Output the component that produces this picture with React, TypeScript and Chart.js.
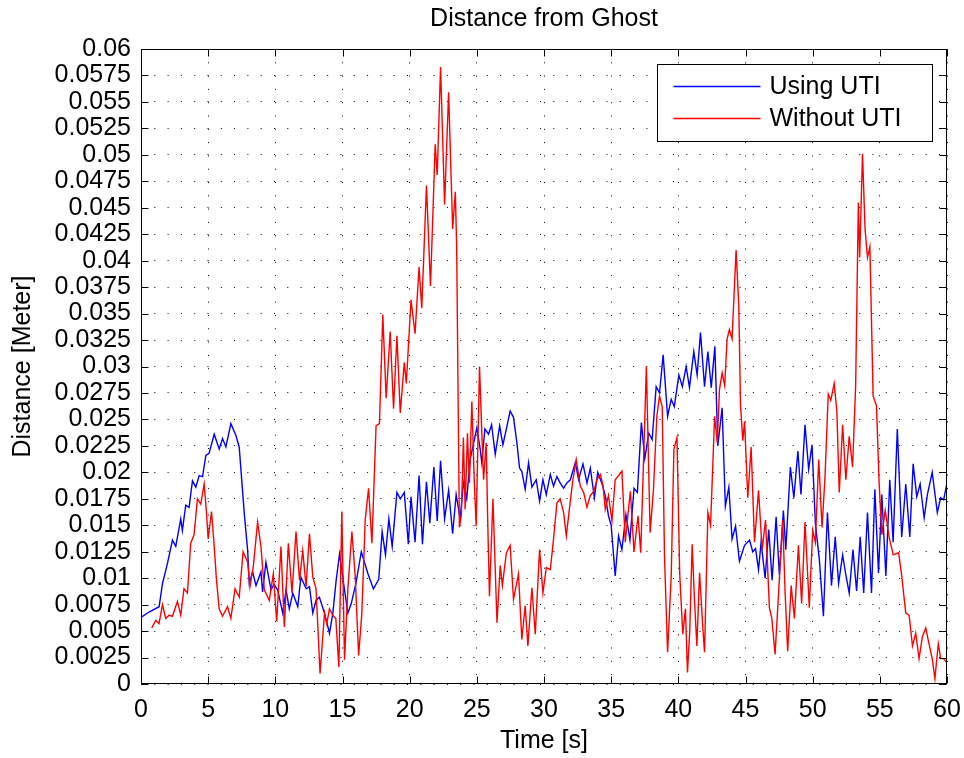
import React, { useEffect, useRef } from "react";
import { Chart, registerables } from "chart.js";

Chart.register(...registerables);

const CHART_TITLE = "Distance from Ghost";
const X_TITLE = "Time [s]";
const Y_TITLE = "Distance [Meter]";
const SERIES_LABELS = ["Using UTI", "Without UTI"];
const SERIES_COLORS = ["#0000ff", "#ff0000"];

const TIME_TICKS = [0, 5, 10, 15, 20, 25, 30, 35, 40, 45, 50, 55, 60];
const DIST_TICKS = [
  0, 0.0025, 0.005, 0.0075, 0.01, 0.0125, 0.015, 0.0175, 0.02, 0.0225, 0.025,
  0.0275, 0.03, 0.0325, 0.035, 0.0375, 0.04, 0.0425, 0.045, 0.0475, 0.05,
  0.0525, 0.055, 0.0575, 0.06,
];

const usingUtiTime = [
  0, 0.6, 1.35, 1.6, 1.97, 2.34, 2.59, 2.96, 3.08, 3.33, 3.58, 3.83, 4.08, 4.33,
  4.58, 4.83, 5.07, 5.45, 5.82, 6.07, 6.32, 6.69, 7.06, 7.31, 7.69, 7.94, 8.06,
  8.31, 8.56, 8.93, 9.05, 9.3, 9.68, 9.9, 10.17, 10.55, 10.8, 11.04, 11.3, 11.67,
  11.9, 12.3, 12.54, 12.79, 13.03, 13.28, 13.66, 14.03, 14.28, 14.53, 14.78,
  15.15, 15.4, 15.65, 16.0, 16.4, 16.9, 17.3, 17.7, 17.95, 18.2, 18.45, 18.7,
  19.05, 19.3, 19.6, 19.9, 20.1, 20.4, 20.7, 20.95, 21.25, 21.5, 21.8, 22.05,
  22.3, 22.6, 22.9, 23.2, 23.46, 23.76, 24.0, 24.25, 24.5, 25.0, 25.25, 25.37,
  25.6, 25.87, 26.1, 26.37, 26.7, 26.94, 27.2, 27.48, 27.73, 27.98, 28.18,
  28.35, 28.6, 28.85, 29.1, 29.42, 29.67, 29.92, 30.17, 30.47, 30.71, 30.96,
  31.2, 31.46, 31.7, 31.96, 32.33, 32.58, 32.9, 33.2, 33.45, 33.75, 34.0, 34.3,
  34.56, 34.8, 35.0, 35.3, 35.55, 35.8, 36.1, 36.4, 36.7, 36.95, 37.25, 37.5,
  37.8, 38.05, 38.35, 38.6, 38.87, 39.2, 39.47, 39.7, 40.04, 40.3, 40.58, 40.83,
  41.15, 41.4, 41.65, 41.95, 42.2, 42.45, 42.72, 42.94, 43.26, 43.5, 43.76,
  44.0, 44.26, 44.55, 44.93, 45.3, 45.54, 45.75, 45.97, 46.16, 46.46, 46.73,
  46.98, 47.28, 47.52, 47.82, 48.0, 48.34, 48.6, 48.9, 49.13, 49.43, 49.7,
  49.95, 50.2, 50.5, 50.8, 51.1, 51.4, 51.68, 51.93, 52.23, 52.47, 52.72, 53.0,
  53.27, 53.54, 53.8, 54.08, 54.38, 54.63, 54.9, 55.15, 55.45, 55.74, 55.99,
  56.3, 56.63, 56.93, 57.23, 57.48, 57.75, 58.0, 58.3, 58.54, 58.9, 59.28,
  59.53, 59.75, 60,
];
const usingUtiDist = [
  0.0063, 0.0068, 0.0073, 0.0095, 0.0114, 0.0136, 0.013, 0.0156, 0.0145, 0.0169,
  0.0167, 0.0192, 0.0186, 0.0197, 0.0196, 0.0216, 0.0218, 0.0236, 0.0222,
  0.0232, 0.0224, 0.0246, 0.0235, 0.0224, 0.0161, 0.0126, 0.0095, 0.0106,
  0.0093, 0.0106, 0.0087, 0.0115, 0.0089, 0.0094, 0.0089, 0.0067, 0.0089,
  0.0071, 0.0086, 0.0073, 0.0101, 0.009, 0.0092, 0.0067, 0.0079, 0.0082, 0.0067,
  0.0048, 0.0067, 0.0098, 0.0123, 0.0089, 0.0067, 0.0076, 0.0095, 0.0125,
  0.0104, 0.009, 0.0099, 0.0144, 0.0122, 0.0156, 0.013, 0.0181, 0.0175, 0.0181,
  0.0132, 0.0177, 0.0134, 0.0197, 0.0132, 0.0191, 0.0152, 0.0205, 0.0154,
  0.0211, 0.0156, 0.0183, 0.0142, 0.0179, 0.0156, 0.019, 0.0175, 0.0212,
  0.0242, 0.0222, 0.0209, 0.0241, 0.0236, 0.0245, 0.0217, 0.0244, 0.0226,
  0.0241, 0.0258, 0.0252, 0.0228, 0.0204, 0.0201, 0.0184, 0.0209, 0.0186,
  0.0193, 0.0173, 0.0193, 0.0179, 0.0198, 0.0187, 0.0196, 0.019, 0.0185, 0.019,
  0.0193, 0.0209, 0.0193, 0.0208, 0.019, 0.0204, 0.0176, 0.02, 0.019, 0.0178,
  0.0159, 0.015, 0.0102, 0.014, 0.0127, 0.016, 0.0136, 0.0185, 0.0181, 0.0247,
  0.0213, 0.0237, 0.0231, 0.0281, 0.0275, 0.0311, 0.0253, 0.0269, 0.0262,
  0.0292, 0.0281, 0.03, 0.028, 0.0314, 0.0292, 0.0332, 0.0281, 0.0314, 0.028,
  0.0319, 0.0225, 0.0261, 0.0168, 0.0186, 0.0137, 0.0149, 0.0116, 0.0131,
  0.0136, 0.0125, 0.0128, 0.0108, 0.0134, 0.01, 0.0146, 0.0098, 0.0158, 0.0103,
  0.0164, 0.0127, 0.0205, 0.0176, 0.022, 0.0179, 0.0245, 0.0203, 0.0226,
  0.0152, 0.0117, 0.0064, 0.0162, 0.0093, 0.0139, 0.0095, 0.0122, 0.0103,
  0.0086, 0.0127, 0.0088, 0.0139, 0.0086, 0.0162, 0.0086, 0.0184, 0.0105,
  0.0179, 0.0102, 0.0193, 0.0134, 0.0241, 0.0139, 0.0189, 0.0139, 0.0208,
  0.0177, 0.0189, 0.0157, 0.0179, 0.02, 0.0162, 0.0176, 0.0174, 0.019,
];

const withoutUtiTime = [
  0.8, 1.1, 1.34, 1.6, 1.84, 2.09, 2.34, 2.71, 2.96, 3.2, 3.46, 3.7, 3.95, 4.2,
  4.45, 4.7, 4.88, 5.0, 5.25, 5.45, 5.62, 5.82, 6.07, 6.44, 6.69, 7.0, 7.31,
  7.6, 7.94, 8.11, 8.36, 8.68, 8.93, 9.18, 9.55, 9.85, 10.1, 10.42, 10.67,
  10.97, 11.24, 11.54, 11.8, 12.04, 12.29, 12.54, 12.79, 13.03, 13.33, 13.66,
  13.83, 14.03, 14.33, 14.5, 14.73, 14.95, 15.15, 15.4, 15.7, 15.95, 16.2,
  16.44, 16.69, 16.94, 17.19, 17.5, 17.75, 18.0, 18.25, 18.55, 18.8, 19.05,
  19.3, 19.6, 19.75, 20.1, 20.4, 20.7, 20.9, 21.25, 21.55, 21.9, 22.05, 22.3,
  22.6, 22.9, 23.2, 23.4, 23.5, 23.7, 23.85, 24.0, 24.13, 24.3, 24.45, 24.63,
  24.8, 24.95, 25.2, 25.35, 25.5, 25.7, 25.8, 25.94, 26.2, 26.5, 26.74, 26.9,
  27.2, 27.48, 27.73, 28.1, 28.35, 28.6, 28.8, 29.1, 29.35, 29.67, 29.92,
  30.17, 30.47, 30.71, 30.96, 31.2, 31.46, 31.66, 31.96, 32.15, 32.4, 32.7,
  32.95, 33.2, 33.45, 33.7, 33.94, 34.2, 34.4, 34.56, 34.8, 35.06, 35.3, 35.56,
  35.8, 36.05, 36.25, 36.43, 36.7, 37.0, 37.2, 37.43, 37.62, 37.9, 38.15, 38.4,
  38.6, 38.8, 38.97, 39.2, 39.47, 39.67, 39.9, 40.1, 40.33, 40.53, 40.68,
  40.85, 41.03, 41.2, 41.38, 41.58, 41.83, 41.95, 42.2, 42.4, 42.7, 42.9,
  43.06, 43.26, 43.45, 43.63, 43.8, 44.0, 44.3, 44.5, 44.63, 44.8, 44.93,
  45.17, 45.42, 45.67, 45.97, 46.24, 46.49, 46.78, 46.96, 47.2, 47.45, 47.77,
  47.95, 48.14, 48.4, 48.64, 48.94, 49.18, 49.43, 49.75, 50.0, 50.2, 50.45,
  50.7, 50.92, 51.16, 51.35, 51.6, 51.8, 51.98, 52.23, 52.47, 52.72, 52.97,
  53.2, 53.4, 53.5, 53.71, 53.9, 54.08, 54.26, 54.5, 54.75, 54.95, 55.15, 55.4,
  55.7, 56.0, 56.4, 56.63, 56.93, 57.18, 57.43, 57.67, 57.92, 58.17, 58.42,
  58.66, 58.9, 59.1, 59.35, 59.53, 59.75, 60,
];
const withoutUtiDist = [
  0.0053, 0.006, 0.0057, 0.0075, 0.0062, 0.0065, 0.0064, 0.0078, 0.0065, 0.009,
  0.0086, 0.0133, 0.0141, 0.0175, 0.017, 0.0189, 0.0161, 0.0137, 0.0163, 0.013,
  0.0098, 0.0071, 0.0064, 0.0073, 0.0062, 0.009, 0.0082, 0.0125, 0.0115, 0.0092,
  0.0111, 0.0153, 0.013, 0.0089, 0.0079, 0.0104, 0.0059, 0.013, 0.0054, 0.0133,
  0.0086, 0.0144, 0.0098, 0.0126, 0.0092, 0.0142, 0.0101, 0.009, 0.001, 0.0067,
  0.0057, 0.0071, 0.0064, 0.0062, 0.0016, 0.0163, 0.0023, 0.009, 0.0144,
  0.0101, 0.0027, 0.0067, 0.0155, 0.0185, 0.0133, 0.0244, 0.0246, 0.0349,
  0.027, 0.0333, 0.026, 0.0329, 0.0256, 0.0304, 0.0284, 0.0363, 0.0331, 0.0394,
  0.0355, 0.0471, 0.0376, 0.051, 0.0481, 0.0583, 0.0453, 0.0559, 0.043, 0.0465,
  0.0412, 0.0148, 0.016, 0.0233, 0.0165, 0.0237, 0.019, 0.0267, 0.0195, 0.0149,
  0.03, 0.0245, 0.0193, 0.0228, 0.016, 0.0083, 0.0175, 0.0058, 0.0112, 0.0093,
  0.0124, 0.0131, 0.008, 0.0104, 0.0042, 0.0074, 0.0036, 0.0091, 0.0047, 0.0127,
  0.0086, 0.011, 0.0108, 0.0137, 0.0171, 0.0175, 0.0162, 0.014, 0.0173, 0.0193,
  0.0212, 0.0187, 0.0181, 0.0167, 0.0178, 0.0182, 0.0193, 0.0198, 0.0187,
  0.0165, 0.0178, 0.0154, 0.0193, 0.0197, 0.0201, 0.0134, 0.016, 0.0182,
  0.0125, 0.0159, 0.0124, 0.0219, 0.03, 0.0143, 0.0184, 0.0253, 0.0272, 0.0262,
  0.0121, 0.003, 0.0102, 0.0222, 0.0233, 0.0105, 0.0047, 0.0071, 0.0011, 0.005,
  0.0132, 0.008, 0.0036, 0.0105, 0.0052, 0.003, 0.0162, 0.015, 0.0253, 0.0228,
  0.0278, 0.0294, 0.0282, 0.0326, 0.0335, 0.0326, 0.041, 0.0357, 0.0263, 0.023,
  0.0248, 0.0176, 0.0224, 0.0134, 0.0183, 0.0127, 0.0155, 0.0072, 0.0062,
  0.0028, 0.0083, 0.0155, 0.0086, 0.0031, 0.0093, 0.0062, 0.0131, 0.0076,
  0.0153, 0.0072, 0.0145, 0.0134, 0.0212, 0.0148, 0.0196, 0.0274, 0.0268,
  0.0284, 0.0258, 0.0181, 0.0245, 0.0193, 0.0234, 0.0205, 0.0282, 0.0455,
  0.0403, 0.0501, 0.043, 0.0403, 0.0413, 0.0272, 0.0263, 0.0189, 0.0141, 0.0164,
  0.0138, 0.0122, 0.0124, 0.0102, 0.0067, 0.0065, 0.0036, 0.0048, 0.0024,
  0.0045, 0.0053, 0.0038, 0.0024, 0.0005, 0.0038, 0.0024, 0.0024, 0.002,
];

const FONT_FAMILY = "'Liberation Sans', Arial, Helvetica, sans-serif";
const W = 964;
const H = 758;

const fmtDist = (v: number) => String(Number(v.toFixed(4)));

const framePlugin = {
  id: "matlabFrame",
  afterDraw(chart: any) {
    const { ctx, chartArea: a, scales } = chart;
    const L = Math.round(a.left) + 0.5;
    const R = Math.round(a.right) - 0.5;
    const T = Math.round(a.top) + 0.5;
    const B = Math.round(a.bottom) - 0.5;
    ctx.save();
    ctx.strokeStyle = "#000";
    ctx.lineWidth = 1;
    ctx.setLineDash([]);
    ctx.strokeRect(L, T, R - L, B - T);
    const TL = 7;
    ctx.beginPath();
    TIME_TICKS.forEach((t) => {
      const px = Math.round(scales.x.getPixelForValue(t)) + 0.5;
      ctx.moveTo(px, B);
      ctx.lineTo(px, B - TL);
      ctx.moveTo(px, T);
      ctx.lineTo(px, T + TL);
    });
    DIST_TICKS.forEach((v) => {
      const py = Math.round(scales.y.getPixelForValue(v)) + 0.5;
      ctx.moveTo(L, py);
      ctx.lineTo(L + TL, py);
      ctx.moveTo(R, py);
      ctx.lineTo(R - TL, py);
    });
    ctx.stroke();

    // legend box
    const bw = 275;
    const bh = 77;
    const bx = Math.round(a.right - 15 - bw) + 0.5;
    const by = Math.round(a.top + 15) + 0.5;
    ctx.fillStyle = "#fff";
    ctx.fillRect(bx, by, bw, bh);
    ctx.strokeStyle = "#000";
    ctx.strokeRect(bx, by, bw, bh);
    ctx.font = `25px ${FONT_FAMILY}`;
    ctx.textBaseline = "middle";
    ctx.textAlign = "left";
    chart.data.datasets.forEach((ds: any, i: number) => {
      const ly = by + 22 + i * 32;
      ctx.strokeStyle = ds.borderColor;
      ctx.lineWidth = 1.3;
      ctx.beginPath();
      ctx.moveTo(bx + 16, ly);
      ctx.lineTo(bx + 103, ly);
      ctx.stroke();
      ctx.fillStyle = "#000";
      ctx.fillText(ds.label, bx + 112, ly + 1);
    });
    ctx.restore();
  },
};

export default function App() {
  const canvasRef = useRef<HTMLCanvasElement | null>(null);

  useEffect(() => {
    const canvas = canvasRef.current;
    if (!canvas) return;
    const series = [
      { t: usingUtiTime, d: usingUtiDist },
      { t: withoutUtiTime, d: withoutUtiDist },
    ];
    const chart = new Chart(canvas, {
      type: "line",
      data: {
        datasets: series.map((s, i) => ({
          label: SERIES_LABELS[i],
          data: s.t.map((t, k) => ({ x: t, y: s.d[k] })),
          borderColor: SERIES_COLORS[i],
          backgroundColor: SERIES_COLORS[i],
          borderWidth: 1.4,
          pointRadius: 0,
          tension: 0,
          fill: false,
          order: i === 0 ? 1 : 0,
        })),
      },
      options: {
        animation: false,
        responsive: false,
        maintainAspectRatio: false,
        devicePixelRatio: 1,
        layout: { padding: 0 },
        font: { family: FONT_FAMILY },
        plugins: {
          legend: { display: false },
          tooltip: { enabled: false },
          title: {
            display: true,
            text: CHART_TITLE,
            fullSize: false,
            color: "#000",
            font: { family: FONT_FAMILY, size: 25, weight: "normal" },
            padding: { top: 4, bottom: 0 },
          },
        },
        scales: {
          x: {
            type: "linear",
            position: "bottom",
            min: 0,
            max: 60,
            afterBuildTicks: (s: any) => {
              s.ticks = TIME_TICKS.map((v) => ({ value: v }));
            },
            afterFit: (s: any) => {
              s.height = 74;
              s.paddingLeft = 0;
              s.paddingRight = 0;
            },
            ticks: {
              color: "#000",
              font: { family: FONT_FAMILY, size: 25 },
              padding: 11,
              maxRotation: 0,
              autoSkip: false,
              callback: (v: any) => String(v),
            },
            grid: {
              color: "#000",
              lineWidth: 1,
              drawTicks: false,
              tickLength: 0,
            },
            border: { display: false, dash: [1, 12.3] },
            title: {
              display: true,
              text: X_TITLE,
              color: "#000",
              font: { family: FONT_FAMILY, size: 25 },
              padding: { top: 0, bottom: 2 },
            },
          },
          xTop: {
            type: "linear",
            position: "top",
            min: 0,
            max: 60,
            ticks: { display: false },
            grid: { display: false },
            border: { display: false },
            afterFit: (s: any) => {
              s.height = 15;
              s.paddingLeft = 0;
              s.paddingRight = 0;
            },
          },
          y: {
            type: "linear",
            position: "left",
            min: 0,
            max: 0.06,
            afterBuildTicks: (s: any) => {
              s.ticks = DIST_TICKS.map((v) => ({ value: v }));
            },
            afterFit: (s: any) => {
              s.width = 141;
              s.paddingTop = 0;
              s.paddingBottom = 0;
            },
            ticks: {
              color: "#000",
              font: { family: FONT_FAMILY, size: 25 },
              padding: 10,
              autoSkip: false,
              callback: (v: any) => fmtDist(Number(v)),
            },
            grid: {
              color: "#000",
              lineWidth: 1,
              drawTicks: false,
              tickLength: 0,
            },
            border: { display: false, dash: [1, 12.3] },
            title: {
              display: true,
              text: Y_TITLE,
              color: "#000",
              font: { family: FONT_FAMILY, size: 25 },
              padding: { top: 8, bottom: 0 },
            },
          },
          yRight: {
            type: "linear",
            position: "right",
            min: 0,
            max: 0.06,
            ticks: { display: false },
            grid: { display: false },
            border: { display: false },
            afterFit: (s: any) => {
              s.width = 17;
              s.paddingTop = 0;
              s.paddingBottom = 0;
            },
          },
        },
      } as any,
      plugins: [framePlugin],
    });
    return () => chart.destroy();
  }, []);

  return (
    <div
      style={{
        position: "fixed",
        left: 0,
        top: 0,
        width: W,
        height: H,
        background: "#fff",
      }}
    >
      <canvas
        ref={canvasRef}
        width={W}
        height={H}
        style={{ width: W, height: H, display: "block" }}
      />
    </div>
  );
}
